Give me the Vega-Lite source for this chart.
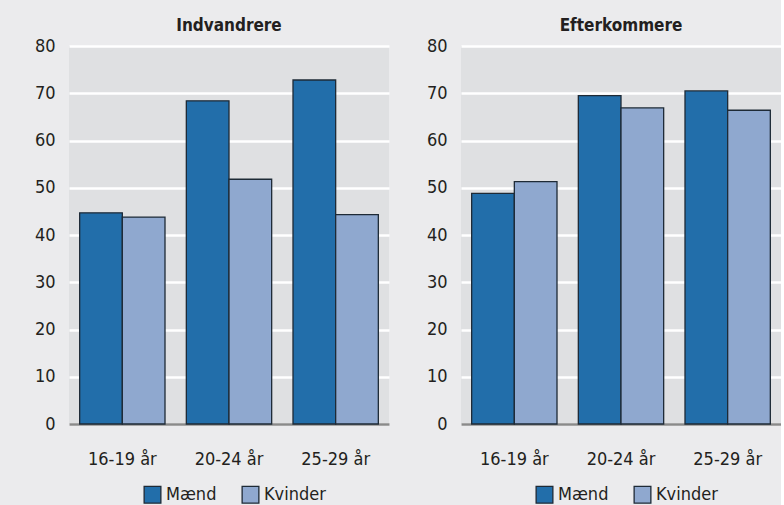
{
  "$schema": "https://vega.github.io/schema/vega-lite/v6.json",
  "background": "#ebebed",
  "padding": {"left": 34, "top": 17, "right": 0, "bottom": 4},
  "data": {"values": [
    {"gruppe": "Indvandrere", "alder": "16-19 år", "koen": "Mænd", "pct": 44.7},
    {"gruppe": "Indvandrere", "alder": "16-19 år", "koen": "Kvinder", "pct": 43.8},
    {"gruppe": "Indvandrere", "alder": "20-24 år", "koen": "Mænd", "pct": 68.4},
    {"gruppe": "Indvandrere", "alder": "20-24 år", "koen": "Kvinder", "pct": 51.8},
    {"gruppe": "Indvandrere", "alder": "25-29 år", "koen": "Mænd", "pct": 72.8},
    {"gruppe": "Indvandrere", "alder": "25-29 år", "koen": "Kvinder", "pct": 44.3},
    {"gruppe": "Efterkommere", "alder": "16-19 år", "koen": "Mænd", "pct": 48.8},
    {"gruppe": "Efterkommere", "alder": "16-19 år", "koen": "Kvinder", "pct": 51.3},
    {"gruppe": "Efterkommere", "alder": "20-24 år", "koen": "Mænd", "pct": 69.5},
    {"gruppe": "Efterkommere", "alder": "20-24 år", "koen": "Kvinder", "pct": 66.9},
    {"gruppe": "Efterkommere", "alder": "25-29 år", "koen": "Mænd", "pct": 70.5},
    {"gruppe": "Efterkommere", "alder": "25-29 år", "koen": "Kvinder", "pct": 66.4}
  ]},
  "spacing": 37,
  "resolve": {"legend": {"color": "independent"}, "scale": {"y": "independent"}},
  "hconcat": [
    {
      "title": "Indvandrere",
      "width": 320, "height": 378,
      "transform": [{"filter": "datum.gruppe == 'Indvandrere'"}],
      "mark": {"type": "bar", "stroke": "#1e2a36", "strokeWidth": 1.3},
      "encoding": {
        "x": {"field": "alder", "type": "nominal", "title": null, "scale": {"paddingInner": 0.2, "paddingOuter": 0.1}},
        "xOffset": {"field": "koen", "type": "nominal", "sort": ["Mænd", "Kvinder"]},
        "y": {"field": "pct", "type": "quantitative", "title": null, "scale": {"domain": [0, 80]}, "axis": {"values": [0, 10, 20, 30, 40, 50, 60, 70, 80]}},
        "color": {"field": "koen", "type": "nominal", "sort": ["Mænd", "Kvinder"], "scale": {"domain": ["Mænd", "Kvinder"], "range": ["#226eaa", "#8fa8cf"]}, "legend": {"title": null, "orient": "none", "legendX": 74, "legendY": 439}}
      }
    },
    {
      "title": "Efterkommere",
      "width": 320, "height": 378,
      "transform": [{"filter": "datum.gruppe == 'Efterkommere'"}],
      "mark": {"type": "bar", "stroke": "#1e2a36", "strokeWidth": 1.3},
      "encoding": {
        "x": {"field": "alder", "type": "nominal", "title": null, "scale": {"paddingInner": 0.2, "paddingOuter": 0.1}},
        "xOffset": {"field": "koen", "type": "nominal", "sort": ["Mænd", "Kvinder"]},
        "y": {"field": "pct", "type": "quantitative", "title": null, "scale": {"domain": [0, 80]}, "axis": {"values": [0, 10, 20, 30, 40, 50, 60, 70, 80]}},
        "color": {"field": "koen", "type": "nominal", "sort": ["Mænd", "Kvinder"], "scale": {"domain": ["Mænd", "Kvinder"], "range": ["#226eaa", "#8fa8cf"]}, "legend": {"title": null, "orient": "none", "legendX": 74, "legendY": 439}}
      }
    }
  ],
  "config": {
    "font": "DejaVu Sans Condensed, Roboto, sans-serif",
    "view": {"fill": "#dfe0e2", "stroke": null},
    "title": {"fontSize": 17, "fontWeight": "bold", "color": "#231f20", "offset": 2, "font": "DejaVu Sans Condensed, Roboto, sans-serif"},
    "axis": {"labelFontSize": 18, "labelColor": "#231f20", "labelFont": "DejaVu Sans Condensed, Roboto, sans-serif"},
    "axisY": {"domain": false, "ticks": false, "grid": true, "gridColor": "#ffffff", "gridWidth": 2.5, "labelPadding": 14},
    "axisX": {"domain": true, "domainColor": "#8a8a8a", "domainWidth": 2.5, "ticks": false, "grid": false, "labelPadding": 26, "labelAngle": 0},
    "legend": {"direction": "horizontal", "symbolType": "square", "symbolSize": 280, "symbolStrokeColor": "#1e2a36", "symbolStrokeWidth": 1.3, "labelFontSize": 18, "labelColor": "#231f20", "labelFont": "DejaVu Sans Condensed, Roboto, sans-serif", "columnPadding": 22, "padding": 0}
  }
}
